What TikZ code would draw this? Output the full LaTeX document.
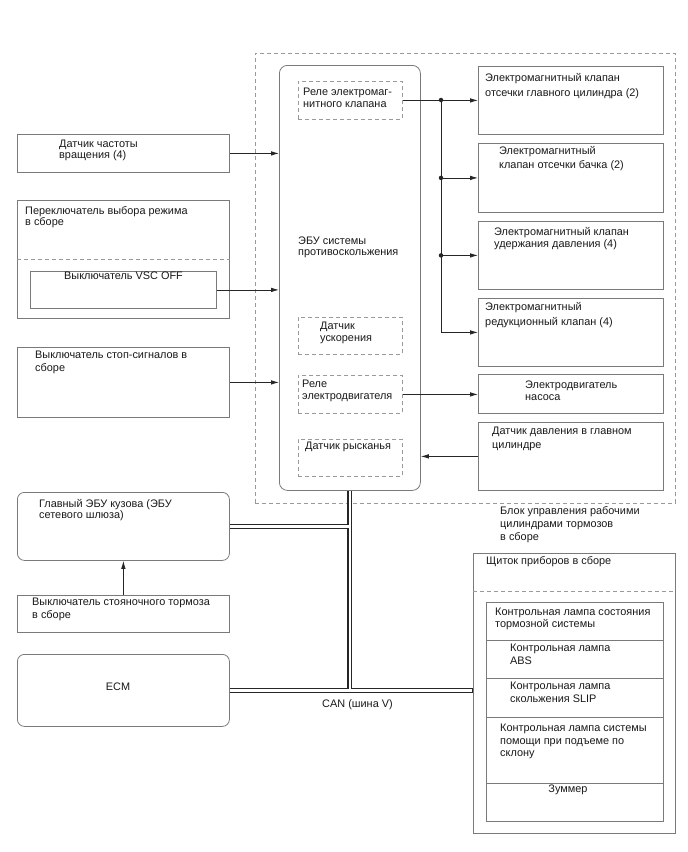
\documentclass[tikz,border=0pt]{standalone}
\usepackage{fontspec}
\setmainfont{Liberation Sans}
\usetikzlibrary{arrows.meta}
\definecolor{boxgray}{HTML}{7A7A7A}
\definecolor{dashgray}{HTML}{9A9A9A}
\definecolor{linecol}{HTML}{262626}
\definecolor{txtcol}{HTML}{1A1A1A}
\begin{document}
\begin{tikzpicture}[x=1pt,y=-1pt,
  box/.style={draw=boxgray, line width=0.8pt, inner sep=0pt, anchor=north west, fill=none},
  dbox/.style={draw=dashgray, line width=0.8pt, dash pattern=on 4pt off 3pt, inner sep=0pt, anchor=north west},
  lbl/.style={anchor=north west, inner sep=0pt, align=left, text=txtcol, font=\fontsize{10.9}{#1}\selectfont},
  lbl/.default=13,
  clbl/.style={anchor=center, inner sep=0pt, text=txtcol, font=\fontsize{10.9}{13}\selectfont},
  conn/.style={draw=linecol, line width=0.8pt},
  arr/.style={conn, -{Latex[length=8pt,width=4.5pt]}},
  sepline/.style={draw=dashgray, line width=0.8pt, dash pattern=on 4pt off 3pt},
  dot/.style={circle, fill=linecol, inner sep=0pt, minimum size=4.5pt},
  busout/.style={draw=linecol, line width=5pt},
  busin/.style={draw=white, line width=2.2pt, shorten <=0.6pt, shorten >=0.6pt}
]
\useasboundingbox[fill=white] (0,0) rectangle (688,852);

% outer dashed block
\node[dbox, minimum width=420pt, minimum height=450pt] (block) at (255,53) {};
\node[lbl=13.3] (blocktxt) at (500,506) {Блок управления рабочими\\цилиндрами тормозов\\в сборе};

% ABS ECU
\node[box, rounded corners=8pt, minimum width=141pt, minimum height=425pt] (ecu) at (279,65) {};
\node[lbl=11] (ecutxt) at (298,237) {ЭБУ системы\\противоскольжения};
\node[dbox, minimum width=104pt, minimum height=38pt] (relay1) at (298,81) {};
\node[lbl=12] (relay1txt) at (303,88) {Реле электромаг-\\нитного клапана};
\node[dbox, minimum width=104pt, minimum height=37pt] (accel) at (298,317) {};
\node[lbl=12.3] (acceltxt) at (320,321.5) {Датчик\\ускорения};
\node[dbox, minimum width=104pt, minimum height=38pt] (mrelay) at (298,375) {};
\node[lbl=12.7] (mrelaytxt) at (302,379.5) {Реле\\электродвигателя};
\node[dbox, minimum width=104pt, minimum height=37pt] (yaw) at (298,439) {};
\node[lbl] (yawtxt) at (305,442) {Датчик рысканья};

% right boxes
\node[box, minimum width=185pt, minimum height=68pt] (v1) at (478,66) {};
\node[lbl=15] (v1txt) at (485,73) {Электромагнитный клапан\\отсечки главного цилиндра (2)};
\node[box, minimum width=185pt, minimum height=69pt] (v2) at (478,143) {};
\node[lbl=14] (v2txt) at (499,146.5) {Электромагнитный\\клапан отсечки бачка (2)};
\node[box, minimum width=185pt, minimum height=68pt] (v3) at (478,221) {};
\node[lbl=12.7] (v3txt) at (494,227) {Электромагнитный клапан\\удержания давления (4)};
\node[box, minimum width=185pt, minimum height=68pt] (v4) at (478,298) {};
\node[lbl=15] (v4txt) at (485,302) {Электромагнитный\\редукционный клапан (4)};
\node[box, minimum width=185pt, minimum height=39pt] (motor) at (478,374) {};
\node[lbl=12.3] (motortxt) at (525,380.5) {Электродвигатель\\насоса};
\node[box, minimum width=185pt, minimum height=68pt] (press) at (478,422) {};
\node[lbl=13.3] (presstxt) at (492,427) {Датчик давления в главном\\цилиндре};

% left boxes
\node[box, minimum width=212pt, minimum height=38pt] (speed) at (17,134) {};
\node[lbl=11] (speedtxt) at (59,139.5) {Датчик частоты\\вращения (4)};
\node[box, minimum width=212pt, minimum height=118pt] (mode) at (17,200) {};
\node[lbl=11.7] (modetxt) at (25,206) {Переключатель выбора режима\\в сборе};
\node[box, minimum width=186pt, minimum height=37pt] (vsc) at (30,271) {};
\node[lbl] (vsctxt) at (64,272) {Выключатель VSC OFF};
\node[box, minimum width=212pt, minimum height=70pt] (stop) at (17,347) {};
\node[lbl=13.3] (stoptxt) at (35,350.5) {Выключатель стоп-сигналов в\\сборе};
\node[box, rounded corners=7pt, minimum width=212pt, minimum height=68pt] (body) at (17,492) {};
\node[lbl=11.7] (bodytxt) at (39,499) {Главный ЭБУ кузова (ЭБУ\\сетевого шлюза)};
\node[box, minimum width=212pt, minimum height=37pt] (park) at (17,595) {};
\node[lbl=12.3] (parktxt) at (32,598) {Выключатель стояночного тормоза\\в сборе};
\node[box, rounded corners=7pt, minimum width=212pt, minimum height=72pt] (ecm) at (17,654) {};
\node[clbl] (ecmtxt) at (118,687) {ECM};

% combination meter
\node[box, minimum width=202pt, minimum height=280pt] (meter) at (473,553) {};
\node[lbl] (metertxt) at (486,556.5) {Щиток приборов в сборе};
\node[box, minimum width=177pt, minimum height=38pt] (lamp1) at (486,602) {};
\node[lbl=12.7] (lamp1txt) at (495,607.5) {Контрольная лампа состояния\\тормозной системы};
\node[box, minimum width=177pt, minimum height=38pt] (lamp2) at (486,640) {};
\node[lbl=12.3] (lamp2txt) at (510,644) {Контрольная лампа\\ABS};
\node[box, minimum width=177pt, minimum height=39pt] (lamp3) at (486,678) {};
\node[lbl=12.7] (lamp3txt) at (510,682) {Контрольная лампа\\скольжения SLIP};
\node[box, minimum width=177pt, minimum height=66pt] (lamp4) at (486,717) {};
\node[lbl=12.5] (lamp4txt) at (500,724) {Контрольная лампа системы\\помощи при подъеме по\\склону};
\node[box, minimum width=177pt, minimum height=38pt] (lamp5) at (486,783) {};
\node[clbl] (lamp5txt) at (568,790) {Зуммер};

% dashed separators
\draw[sepline] (mode.west) -- (mode.east);
\draw[sepline] ([yshift=-38pt]meter.north west) -- ([yshift=-38pt]meter.north east);

% inputs to ECU
\draw[arr] (speed.east) -- (speed.east -| ecu.west);
\draw[arr] (vsc.east) -- (vsc.east -| ecu.west);
\draw[arr] (stop.east) -- (stop.east -| ecu.west);
\draw[arr] (press.west) -- (press.west -| ecu.east);

% solenoid outputs
\coordinate (j1) at (441,100);
\draw[arr] (relay1.east) -- (relay1.east -| v1.west);
\draw[conn] (j1) -- (j1 |- v4.west);
\draw[arr] (j1 |- v2.west) -- (v2.west);
\draw[arr] (j1 |- v3.west) -- (v3.west);
\draw[arr] (j1 |- v4.west) -- (v4.west);
\node[dot] (d1) at (j1) {};
\node[dot] (d2) at (j1 |- v2.west) {};
\node[dot] (d3) at (j1 |- v3.west) {};

% motor
\draw[arr] (mrelay.east) -- (mrelay.east -| motor.west);

% parking brake
\draw[arr] (park.north) -- (body.south);

% CAN bus
\coordinate (b1) at (ecu.south |- body.east);
\coordinate (b2) at (ecu.south |- ecm.east);
\coordinate (b3) at (meter.west |- ecm.east);
\draw[busout] (ecu.south) -- (b2);
\draw[busout] (body.east) -- (b1);
\draw[busout] (ecm.east) -- (b3);
\draw[busin] (ecu.south) -- (b2);
\draw[busin] (body.east) -- (b1);
\draw[busin] (ecm.east) -- (b3);
\node[clbl] (cantxt) at (357.5,705) {CAN (шина V)};
\end{tikzpicture}
\end{document}
